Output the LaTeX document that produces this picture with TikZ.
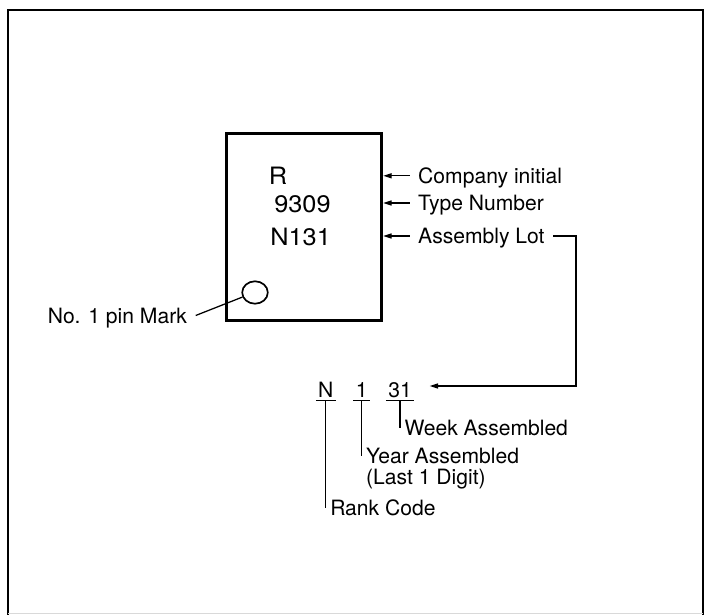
\documentclass[tikz,border=0pt]{standalone}
\usepackage{fontspec}
\setmainfont{TeX Gyre Heros}
\newfontfamily\chipfont[FakeStretch=1.06]{TeX Gyre Heros}
\usetikzlibrary{arrows.meta,shapes.geometric}
\tikzset{
  lbl/.style={font=\fontsize{15}{15}\selectfont, inner xsep=6pt, inner ysep=0pt,
    text height=10.8pt, text depth=0pt},
  sublbl/.style={lbl, inner xsep=3pt, anchor=west},
  codechar/.style={font=\fontsize{15}{15}\selectfont, inner xsep=1.5pt, inner ysep=1.9pt,
    text depth=0pt, anchor=base},
  chiptxt/.style={font=\chipfont\fontsize{17}{17}\selectfont, inner sep=0pt, anchor=base west},
  arr/.style={-{Triangle[length=6pt,width=3.6pt]}, line width=0.9pt},
  thin/.style={line width=0.9pt}
}

\begin{document}
\begin{tikzpicture}[x=0.025cm,y=-0.025cm]
  \useasboundingbox (0,0) rectangle (705,615);
  % outer frame
  \draw[line width=1.2pt] (8.3,615) |- (703.3,10.3) -- (703.3,615);
  \draw[gray!30, line width=0.8pt] (8.3,613.5) -- (703.3,613.5);

  % package
  \node[draw, line width=2.1pt, minimum width=3.875cm, minimum height=4.68cm, inner sep=0pt]
    (chip) at (304.2,226.9) {};
  \node[chiptxt] (mkR)   at (268.5,185.0) {R};
  \node[chiptxt] (mkTyp) at (274.0,212.7) {9309};
  \node[chiptxt] (mkLot) at (270.0,246.0) {N131};
  \node[draw, ellipse, line width=1.2pt, minimum width=0.64cm, minimum height=0.56cm,
    inner sep=0pt] (pin) at (255,292.5) {};

  % marking labels
  \node[lbl, anchor=west] (co)  at (409.5,175.8) {Company initial};
  \node[lbl, anchor=west] (typ) at (409.5,203.0) {Type Number};
  \node[lbl, anchor=west] (asm) at (409.5,236.0) {Assembly Lot};
  \foreach \n in {co,typ,asm}{
     \draw[arr] (\n.west) -- (\n.west -| chip.east);}
  \node[lbl, anchor=east] (pinlbl) at (195.7,315.5) {No. 1 pin Mark};
  \draw[thin] (pinlbl.east) -- (pin.200);

  % lot code breakdown
  \node[codechar] (cN)  at (325.8,397.3) {N};
  \node[codechar] (c1)  at (361.7,397.3) {1};
  \node[codechar] (c31) at (400.0,397.3) {31};
  \foreach \c in {cN,c1,c31}{
     \draw[thin] (\c.south west) -- (\c.south east);}
  \coordinate (bend) at (576,386);
  \draw[arr, shorten >=11pt] (asm.east) -| (bend) -- (bend -| c31.east);

  \node[sublbl] (wk) at (400.0,428.0) {Week Assembled};
  \node[sublbl] (yr) at (361.7,456.0) {Year Assembled};
  \node[sublbl] (dg) at (361.7,476.8) {(Last 1 Digit)};
  \node[sublbl] (rk) at (325.8,508.0) {Rank Code};
  \draw[thin] (c31.south) -- (wk.west);
  \draw[thin] (c1.south) -- (yr.west);
  \draw[thin] (cN.south) -- (rk.west);
\end{tikzpicture}
\end{document}
